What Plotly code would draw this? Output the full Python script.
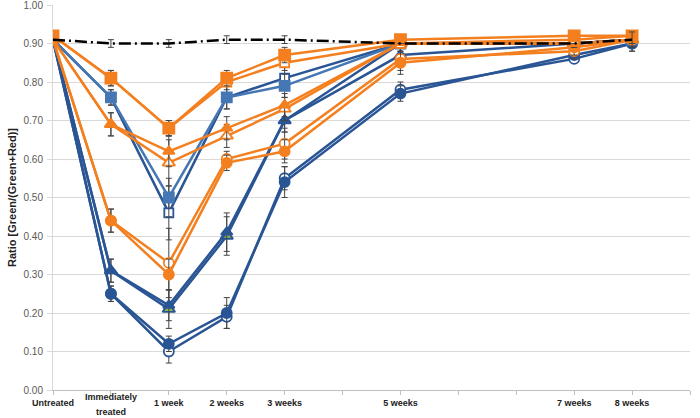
import plotly.graph_objects as go

# x positions (weeks-ish scale) and labels
x_pos = [0, 1, 2, 3, 4, 6, 9, 10]
tick_vals = list(range(0, 12))
tick_text = ["Untreated", "", "1 week", "2 weeks", "3 weeks", "", "5 weeks", "", "", "7 weeks", "8 weeks", ""]
two_line_label = ["Immediately", "treated"]
two_line_x = 1

# Series values
blue_sq_filled = [0.91, 0.76, 0.50, 0.76, 0.79, 0.90, 0.90, 0.91]
blue_sq_open = [0.91, 0.76, 0.46, 0.76, 0.81, 0.90, 0.90, 0.91]
blue_tri_filled = [0.91, 0.31, 0.22, 0.41, 0.70, 0.87, 0.90, 0.91]
blue_tri_open = [0.91, 0.31, 0.21, 0.40, 0.70, 0.90, 0.90, 0.91]
blue_ci_filled = [0.91, 0.25, 0.12, 0.20, 0.54, 0.77, 0.87, 0.90]
blue_ci_open = [0.91, 0.25, 0.10, 0.19, 0.55, 0.78, 0.86, 0.90]
or_sq_filled = [0.92, 0.81, 0.68, 0.81, 0.87, 0.91, 0.92, 0.92]
or_sq_open = [0.92, 0.81, 0.68, 0.80, 0.85, 0.90, 0.91, 0.92]
or_tri_filled = [0.91, 0.69, 0.62, 0.68, 0.74, 0.90, 0.90, 0.91]
or_tri_open = [0.91, 0.69, 0.59, 0.66, 0.73, 0.90, 0.90, 0.91]
or_ci_filled = [0.91, 0.44, 0.30, 0.59, 0.62, 0.85, 0.89, 0.91]
or_ci_open = [0.91, 0.44, 0.33, 0.60, 0.64, 0.86, 0.88, 0.91]
control = [0.91, 0.90, 0.90, 0.91, 0.91, 0.90, 0.90, 0.91]

# Error values
err_blue_sq_filled = [0.0, 0.02, 0.05, 0.03, 0.03, 0.01, 0.01, 0.01]
err_blue_sq_open = [0.0, 0.02, 0.07, 0.03, 0.03, 0.01, 0.01, 0.01]
err_blue_tri_filled = [0.0, 0.03, 0.04, 0.05, 0.03, 0.01, 0.01, 0.01]
err_blue_tri_open = [0.0, 0.03, 0.05, 0.05, 0.03, 0.01, 0.01, 0.01]
err_blue_ci_filled = [0.0, 0.02, 0.02, 0.04, 0.04, 0.02, 0.01, 0.02]
err_blue_ci_open = [0.0, 0.02, 0.03, 0.03, 0.03, 0.02, 0.01, 0.02]
err_or_sq_filled = [0.0, 0.02, 0.02, 0.02, 0.02, 0.01, 0.01, 0.01]
err_or_sq_open = [0.0, 0.02, 0.02, 0.02, 0.02, 0.01, 0.01, 0.01]
err_or_tri_filled = [0.0, 0.03, 0.04, 0.03, 0.03, 0.01, 0.01, 0.01]
err_or_tri_open = [0.0, 0.03, 0.06, 0.03, 0.03, 0.01, 0.01, 0.01]
err_or_ci_filled = [0.0, 0.03, 0.04, 0.02, 0.03, 0.03, 0.02, 0.02]
err_or_ci_open = [0.0, 0.03, 0.09, 0.02, 0.04, 0.03, 0.02, 0.02]
err_control = [0.0, 0.01, 0.01, 0.01, 0.01, 0.0, 0.0, 0.02]

BLUE = "#2A5594"
LBLUE = "#4677B5"
ORANGE = "#F47F1F"
GREEN = "#8DB04A"
FONT = "Liberation Sans, Arial, sans-serif"

fig = go.Figure()


def add(y, err, color, symbol, filled, fillcolors=None, size=10):
    if fillcolors is not None:
        mcolor = fillcolors
    else:
        mcolor = color if filled else "white"
    fig.add_trace(go.Scatter(
        x=x_pos, y=y, mode="lines+markers",
        line=dict(color=color, width=2.5),
        marker=dict(symbol=symbol, size=size, color=mcolor,
                    line=dict(color=color, width=1.8)),
        error_y=dict(type="data", array=err, visible=True, color="#444444",
                     thickness=1, width=3),
        showlegend=False,
    ))


add(blue_ci_open, err_blue_ci_open, BLUE, "circle", False, size=10)
add(blue_ci_filled, err_blue_ci_filled, BLUE, "circle", True, size=10)
add(blue_tri_open, err_blue_tri_open, BLUE, "triangle-up", False,
    fillcolors=["white", "white", GREEN, GREEN, "white", "white", "white", "white"], size=11)
add(blue_tri_filled, err_blue_tri_filled, BLUE, "triangle-up", True, size=10)
add(blue_sq_open, err_blue_sq_open, BLUE, "square", False, size=9)
add(blue_sq_filled, err_blue_sq_filled, LBLUE, "square", True, size=10)
add(or_ci_open, err_or_ci_open, ORANGE, "circle", False, size=10)
add(or_ci_filled, err_or_ci_filled, ORANGE, "circle", True, size=10)
add(or_tri_open, err_or_tri_open, ORANGE, "triangle-up", False, size=11)
add(or_tri_filled, err_or_tri_filled, ORANGE, "triangle-up", True, size=10)
add(or_sq_open, err_or_sq_open, ORANGE, "square", False, size=9)
add(or_sq_filled, err_or_sq_filled, ORANGE, "square", True, size=11)

fig.add_trace(go.Scatter(
    x=x_pos, y=control, mode="lines",
    line=dict(color="black", width=2.5, dash="12px,4px,2px,4px"),
    error_y=dict(type="data", array=err_control, visible=True, color="#444444",
                 thickness=1, width=3),
    showlegend=False,
))

# two-line category label placed under its tick
fig.add_annotation(x=two_line_x, y=0, xref="x", yref="y", text="<b>%s</b>" % two_line_label[0],
                   showarrow=False, yanchor="middle", yshift=-7,
                   font=dict(size=9, color="#222222", family=FONT))
fig.add_annotation(x=two_line_x, y=0, xref="x", yref="y", text="<b>%s</b>" % two_line_label[1],
                   showarrow=False, yanchor="middle", yshift=-22,
                   font=dict(size=9, color="#222222", family=FONT))

fig.update_layout(
    width=700, height=418,
    margin=dict(l=53, r=10, t=5, b=28, autoexpand=False),
    plot_bgcolor="white", paper_bgcolor="white",
    font=dict(family=FONT),
)
fig.update_xaxes(
    range=[0, 11], tickmode="array", tickvals=tick_vals,
    ticktext=["<b>%s</b>" % t if t else "" for t in tick_text],
    showgrid=False, zeroline=False, showline=True, linecolor="#BFBFBF", linewidth=1,
    ticks="outside", ticklen=4, tickcolor="#BFBFBF", automargin=False,
    tickfont=dict(size=9, color="#222222", family=FONT),
    tickangle=0,
)
fig.update_yaxes(
    range=[0, 1.0], tickmode="linear", tick0=0, dtick=0.1, tickformat=".2f",
    showgrid=True, gridcolor="#D9D9D9", gridwidth=1, zeroline=False,
    showline=True, linecolor="#D9D9D9", linewidth=1, automargin=False,
    ticks="outside", ticklen=5, tickcolor="#D9D9D9",
    ticklabeloverflow="allow", ticklabelstandoff=2,
    tickfont=dict(size=10, color="#595959", family=FONT),
    title=dict(text="<b>Ratio [Green/(Green+Red)]</b>", font=dict(size=11, color="#222222", family=FONT), standoff=4),
)

fig.write_html(
    "out.html",
    config={"displayModeBar": False},
    post_script="document.body.style.margin='0';document.body.style.overflow='hidden';",
)
